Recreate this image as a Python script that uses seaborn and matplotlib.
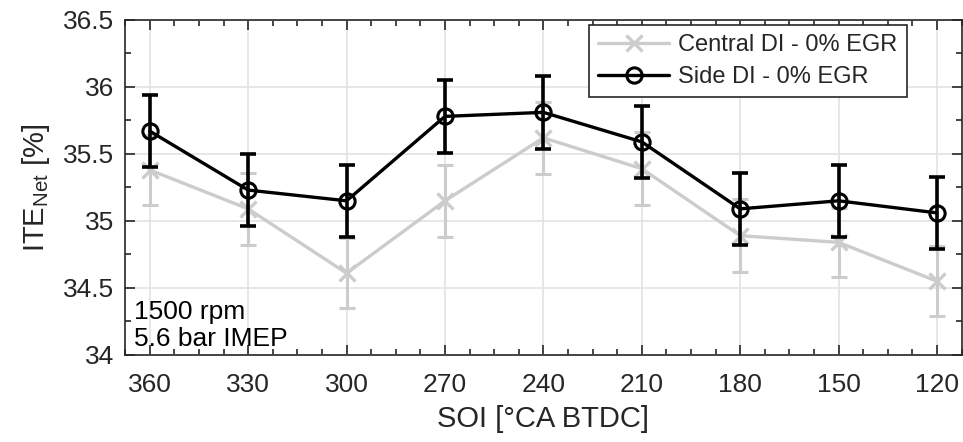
import numpy as np
import pandas as pd
import matplotlib
matplotlib.use('Agg')
import matplotlib.pyplot as plt
import seaborn as sns
from matplotlib.ticker import MultipleLocator

soi = [360, 330, 300, 270, 240, 210, 180, 150, 120]
central_ite = [35.38, 35.09, 34.61, 35.15, 35.62, 35.39, 34.89, 34.84, 34.55]
central_err = [0.26, 0.27, 0.26, 0.27, 0.27, 0.27, 0.27, 0.26, 0.26]
side_ite = [35.67, 35.23, 35.15, 35.78, 35.81, 35.59, 35.09, 35.15, 35.06]
side_err = [0.27, 0.27, 0.27, 0.27, 0.275, 0.27, 0.27, 0.27, 0.27]

sns.set_style('ticks')
plt.rcParams['font.family'] = ['Liberation Sans', 'DejaVu Sans']
plt.rcParams['mathtext.fontset'] = 'custom'
plt.rcParams['mathtext.rm'] = 'Liberation Sans'
plt.rcParams['mathtext.it'] = 'Liberation Sans'

txt = '#262626'
gray = '#cccccc'

fig = plt.figure(figsize=(9.63, 4.42), dpi=100)
ax = fig.add_axes([0.13, 0.197, 0.8685, 0.758])

ax.errorbar(soi, central_ite, yerr=central_err, fmt='none', ecolor=gray,
            elinewidth=2.2, capsize=6, capthick=2.2, zorder=2)
ax.errorbar(soi, side_ite, yerr=side_err, fmt='none', ecolor='black',
            elinewidth=2.6, capsize=6, capthick=2.6, zorder=4)

sns.lineplot(x=soi, y=central_ite, color=gray, marker='x', markersize=11,
             markeredgewidth=2.4, markeredgecolor=gray,
             linewidth=2.4, label='Central DI - 0% EGR', ax=ax, zorder=3)
sns.lineplot(x=soi, y=side_ite, color='black', marker='o', markersize=11,
             markeredgewidth=2.2, markerfacecolor='none', markeredgecolor='black',
             linewidth=2.4, label='Side DI - 0% EGR', ax=ax, zorder=5)

ax.set_xlim(367.5, 112.5)
ax.set_ylim(34, 36.5)
ax.set_xticks(soi)
ax.set_yticks([34, 34.5, 35, 35.5, 36, 36.5])
ax.set_yticklabels(['34', '34.5', '35', '35.5', '36', '36.5'])
ax.xaxis.set_minor_locator(MultipleLocator(7.5))
ax.yaxis.set_minor_locator(MultipleLocator(0.25))
ax.tick_params(which='both', direction='in', top=True, right=True,
               colors=txt, labelsize=19, width=1.2)
ax.tick_params(which='major', length=7)
ax.tick_params(which='minor', length=4)
ax.tick_params(axis='x', pad=13)
ax.tick_params(axis='y', pad=8)
ax.grid(True, which='major', color='#e3e3e3', linewidth=1.2)
ax.set_axisbelow(True)
for s in ax.spines.values():
    s.set_color(txt)
    s.set_linewidth(1.2)

ax.set_xlabel('SOI [°CA BTDC]', fontsize=21, color=txt, labelpad=6)
ax.set_ylabel(r'ITE$_{\mathrm{Net}}$ [%]', fontsize=21, color=txt, labelpad=8)

ax.text(0.01, 0.012, '1500 rpm\n5.6 bar IMEP', transform=ax.transAxes,
        fontsize=19, color='black', ha='left', va='bottom', linespacing=1.15)

leg = ax.legend(loc='upper right', bbox_to_anchor=(0.935, 0.985), fontsize=17,
                frameon=True, fancybox=False, handlelength=3.0,
                borderpad=0.4, labelspacing=0.4, handletextpad=0.4,
                borderaxespad=0)
leg.get_frame().set_edgecolor(txt)
leg.get_frame().set_linewidth(1.2)
leg.get_frame().set_alpha(1)

fig.savefig('out.png', dpi=100)
